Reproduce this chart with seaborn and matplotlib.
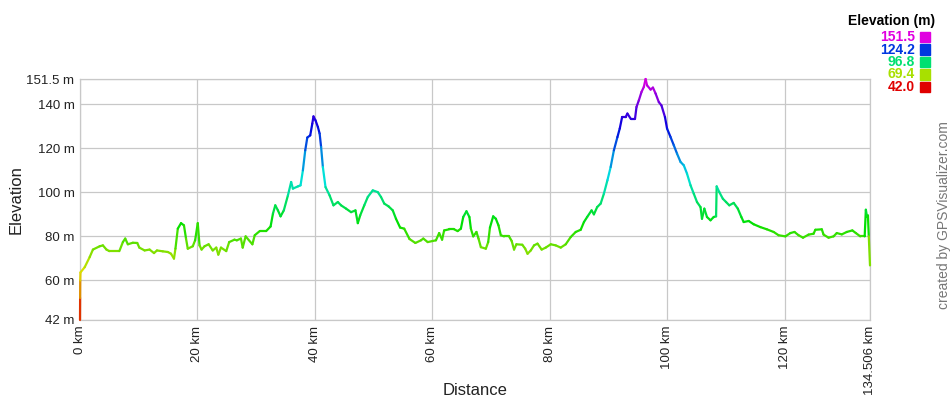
import colorsys
import pandas as pd
import seaborn as sns
import matplotlib.pyplot as plt

# profile (km, m)
dist_km = [0.0, 0.02, 0.04, 0.08, 0.8, 1.65, 2.2, 3.35, 3.9, 4.5, 5.0, 6.7, 7.3, 7.7, 8.15, 9.0,
           9.75, 10.1, 11.0, 11.85, 12.6, 13.1, 14.1, 14.95, 15.5, 16.0, 16.25, 16.65, 17.2, 17.7,
           18.05, 18.35, 19.2, 19.6, 20.05, 20.35, 20.7, 21.2, 21.9, 22.6, 23.2, 23.55, 24.0, 24.9,
           25.4, 26.3, 26.7, 27.4, 27.7, 28.2, 29.35, 29.75, 30.6, 31.7, 32.45, 32.85, 33.25, 33.7,
           34.15, 34.7, 35.4, 35.95, 36.25, 37.1, 37.55, 37.95, 38.35, 38.7, 39.2, 39.55, 39.75,
           40.1, 40.5, 40.8, 41.05, 41.35, 41.8, 42.5, 43.15, 43.9, 44.45, 45.3, 46.15, 46.9, 47.3,
           47.7, 48.4, 49.0, 49.85, 50.7, 51.25, 51.8, 52.55, 53.25, 53.8, 54.5, 55.2, 56.1, 57.1,
           58.05, 58.45, 59.2, 60.05, 60.6, 61.15, 61.65, 62.0, 62.85, 63.7, 64.3, 64.85, 65.25,
           65.8, 66.3, 66.55, 66.95, 67.5, 67.85, 68.25, 69.1, 69.5, 69.8, 70.35, 70.8, 71.25,
           71.65, 72.2, 73.05, 73.5, 73.9, 74.3, 75.3, 75.8, 76.2, 76.75, 77.3, 77.9, 78.6, 79.3,
           80.15, 81.0, 81.85, 82.7, 83.55, 84.4, 85.25, 85.8, 86.35, 87.1, 87.5, 88.05, 88.65,
           89.2, 89.8, 90.35, 90.9, 91.5, 91.9, 92.3, 92.9, 93.2, 93.75, 94.5, 94.75, 95.15, 95.6,
           96.0, 96.3, 96.55, 97.15, 97.55, 98.0, 98.55, 99.0, 99.6, 99.95, 100.55, 101.1, 101.65,
           102.25, 102.8, 103.35, 103.95, 104.5, 105.05, 105.65, 105.9, 106.3, 106.75, 107.35,
           107.9, 108.3, 108.4, 108.85, 109.45, 110.0, 110.55, 111.3, 112.0, 112.6, 113.0, 113.85,
           114.7, 115.85, 116.95, 118.1, 118.95, 120.1, 120.95, 121.65, 122.35, 123.1, 124.05,
           124.9, 125.2, 126.3, 126.6, 127.45, 128.3, 128.85, 129.7, 130.55, 131.5, 132.1, 132.85,
           133.6, 133.8, 134.0, 134.15, 134.3, 134.506]
elev_m = [42, 52, 60, 63.6, 66, 70.6, 74, 75.5, 75.9, 74, 73.3, 73.3, 77.4, 79, 76.4, 77.1,
          77, 74.9, 73.6, 74, 72.4, 73.6, 73.2, 72.9, 72.1, 69.9, 74.4, 83.5, 86, 85,
          79, 74.4, 75.5, 78.2, 86, 75.9, 74, 75.5, 76.4, 73.6, 74.9, 71.7, 74.9, 73.3,
          77.4, 78.5, 78.2, 79, 74.9, 80, 76.4, 80.5, 82.4, 82.4, 84.5, 90.3, 94.1, 91.8,
          89.1, 91.8, 98.6, 104.7, 101.7, 102.7, 103.2, 110, 119.1, 124.9, 125.9, 131.2, 134.5,
          132.7, 129.7, 126.7, 120.6, 111.5, 102.4, 98.6, 94.1, 95.6, 94.1, 92.6, 91, 91.8, 86,
          89.5, 94.1, 97.9, 100.9, 100.1, 97.9, 94.9, 93.6, 91.8, 88, 84, 83.5, 78.8, 77,
          78.2, 79, 77.4, 77.9, 78.2, 81.5, 78.5, 82.7, 83.2, 83.2, 82.4, 83.5, 88.8,
          91.4, 88.8, 83.5, 80, 82, 79, 75.1, 74.4, 77.4, 84, 89.1, 88, 85,
          80.5, 80, 80, 77.9, 74, 76.4, 76.2, 74.4, 72.1, 73.6, 75.9, 76.7, 74, 74.9,
          76.4, 75.9, 74.9, 76.4, 79.7, 82, 83, 86.5, 88.8, 91.8, 90, 93.3, 94.9,
          99.4, 105.5, 111.5, 119.1, 125.1, 129, 134.2, 134.2, 135.8, 133.5, 133.5, 138.8, 141.8, 145.6,
          147.9, 151.5, 148.6, 146.7, 147.6, 144.9, 141, 139.5, 134.2, 129, 125.1, 121.4, 117.6,
          113.8, 112.3, 108.5, 103.2, 99.4, 95.6, 93.3, 88, 92.6, 88.8, 87.3,
          88.8, 89.1, 102.7, 100.1, 97.1, 95.6, 94.1, 95.2, 92.6, 88.8, 86.5, 87,
          85.5, 84.2, 83.2, 82, 80.5, 80, 81.5, 82, 80.5, 79.4, 80.8,
          81.2, 83, 83.2, 80.8, 79.4, 80, 81.5, 80.9, 82, 82.7, 81.5, 80,
          80, 92.1, 88.8, 89.5, 80, 66.8]

y_ticks = [42, 60, 80, 100, 120, 140, 151.5]
y_tick_labels = ['42 m', '60 m', '80 m', '100 m', '120 m', '140 m', '151.5 m']
x_ticks = [0, 20, 40, 60, 80, 100, 120, 134.506]
x_tick_labels = ['0 km', '20 km', '40 km', '60 km', '80 km', '100 km', '120 km', '134.506 km']
legend_values = [151.5, 124.2, 96.8, 69.4, 42.0]

E_MIN, E_MAX = 42.0, 151.5


def elev_color(e):
    # red -> yellow -> green -> blue -> magenta, as in the GPSVisualizer scale
    f = (e - E_MIN) / (E_MAX - E_MIN)
    return colorsys.hsv_to_rgb(f * 300 / 360, 1.0, 0.88)


# one two-point group per segment so each gets its own colour
rows = []
palette = {}
for i in range(len(dist_km) - 1):
    seg = f's{i}'
    rows.append((seg, dist_km[i], elev_m[i]))
    rows.append((seg, dist_km[i + 1], elev_m[i + 1]))
    palette[seg] = elev_color((elev_m[i] + elev_m[i + 1]) / 2)
segs = pd.DataFrame(rows, columns=['seg', 'km', 'm'])

sns.set_style('white')
plt.rcParams['font.family'] = ['Liberation Sans', 'DejaVu Sans']

fig = plt.figure(figsize=(9.5, 4), dpi=100)
ax = fig.add_axes([80 / 950, 1 - 320 / 400, 790 / 950, 241 / 400])

sns.lineplot(data=segs, x='km', y='m', hue='seg', palette=palette,
             estimator=None, sort=False, legend=False, linewidth=1.6,
             solid_capstyle='round', ax=ax)
for ln in ax.lines:
    ln.set_clip_on(False)
    ln.set_zorder(4)

ax.set_xlim(0, 134.506)
ax.set_ylim(E_MIN, E_MAX)
ax.set_yticks(y_ticks)
ax.set_yticklabels(y_tick_labels, fontsize=9.5)
ax.set_xticks(x_ticks)
ax.set_xticklabels(x_tick_labels, fontsize=9.5, rotation=90)
ax.tick_params(length=0, pad=4, colors='#222222')
ax.grid(True, color='#c8c8c8', linewidth=0.9)
ax.set_axisbelow(True)
for s in ax.spines.values():
    s.set_color('#c8c8c8')
    s.set_linewidth(0.9)
ax.set_xlabel('Distance', fontsize=12, color='#222222')
ax.set_ylabel('Elevation', fontsize=12, color='#222222')
ax.xaxis.set_label_coords(0.5, -0.262)
ax.yaxis.set_label_coords(-0.071, 0.5)

# colour legend, top right
fig.text(935 / 950, 1 - 21 / 400, 'Elevation (m)', ha='right', va='center',
         fontsize=10, fontweight='bold', color='black')
for k, v in enumerate(legend_values):
    yc = 1 - (37 + k * 12.5) / 400
    c = elev_color(v)
    fig.text(915 / 950, yc, f'{v:.1f}', ha='right', va='center', fontsize=10,
             fontweight='bold', color=c)
    fig.patches.append(plt.Rectangle((920 / 950, yc - 5 / 400), 10 / 950, 10 / 400,
                                     transform=fig.transFigure, color=c))

fig.text(944 / 950, 1 - 215 / 400, 'created by GPSVisualizer.com', rotation=90,
         ha='center', va='center', fontsize=10, color='#777777')

fig.savefig('out.png', dpi=100)
